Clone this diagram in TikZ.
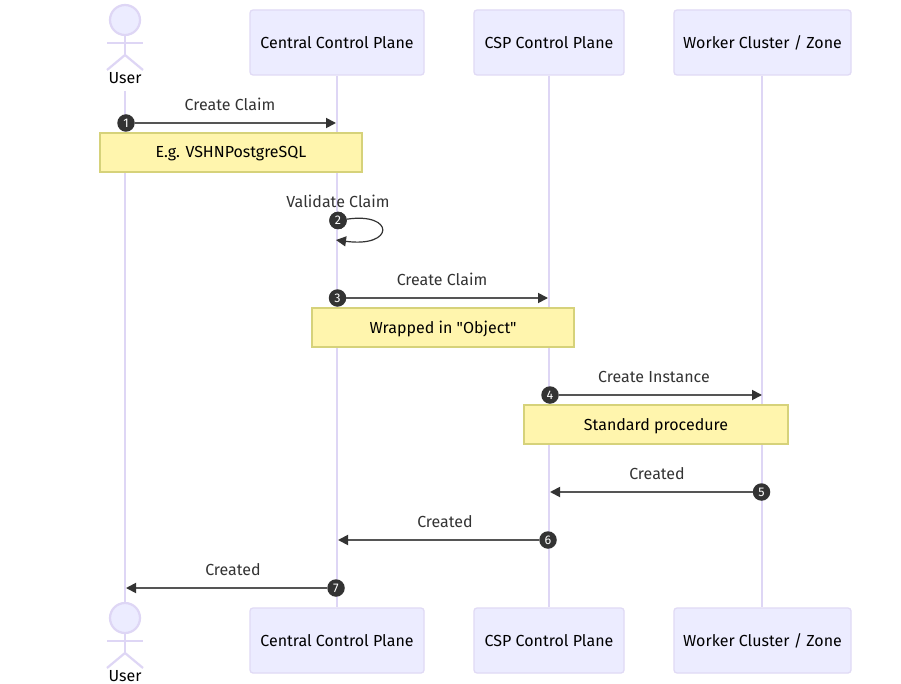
\documentclass[tikz,border=0pt]{standalone}
\usepackage{fontspec}
\setmainfont{Fira Sans}[Ligatures=TeXOff]
\usetikzlibrary{arrows.meta}
\definecolor{actorfill}{HTML}{ECECFF}
\definecolor{actorline}{HTML}{DED6F5}
\definecolor{boxline}{HTML}{E0DAF5}
\definecolor{notefill}{HTML}{FFF5AD}
\definecolor{noteline}{HTML}{D6D27A}
\definecolor{msgline}{HTML}{555555}
\definecolor{ink}{HTML}{333333}
\tikzset{
  x=1pt,y=-1pt,
  lifeline/.style={draw=actorline,line width=2.2pt},
  partbox/.style={draw=boxline,fill=actorfill,line width=1.3pt,rounded corners=3pt,minimum height=65pt,inner sep=0pt,font=\fontsize{16}{18}\selectfont,text=black,text height=12pt,text depth=0pt},
  notebox/.style={draw=noteline,fill=notefill,line width=1.2pt,minimum height=39pt,inner sep=0pt,font=\fontsize{16}{18}\selectfont,text=black,text height=11pt,text depth=0pt},
  msglabel/.style={font=\fontsize{16}{18}\selectfont,text=ink,inner sep=0pt,text height=12pt,text depth=0pt},
  actorlabel/.style={font=\fontsize{16}{18}\selectfont,text=black,inner sep=0pt,fill=white,inner xsep=1pt,text height=11pt,text depth=0pt},
  msg/.style={draw=msgline,line width=1.8pt,-{Triangle[length=10pt,width=10pt,color=ink]}},
  numdot/.style={circle,fill=ink,text=white,minimum size=17.5pt,inner sep=0pt,font=\fontsize{12.5}{13}\selectfont},
  limb/.style={draw=actorline,line width=2.2pt},
  head/.style={circle,draw=actorline,fill=actorfill,line width=2.2pt,minimum size=30pt,inner sep=0pt},
}
\begin{document}
\begin{tikzpicture}
\useasboundingbox (0,0) rectangle (901,684);
\fill[white] (0,0) rectangle (901,684);
% participant anchors
\node[partbox,minimum width=174pt] (cTop) at (337,42.5) {Central Control Plane};
\node[partbox,minimum width=150pt] (sTop) at (549,42.5) {CSP Control Plane};
\node[partbox,minimum width=177pt] (wTop) at (762.5,42.5) {Worker Cluster / Zone};
\node[partbox,minimum width=174pt] (cBot) at (337,640.5) {Central Control Plane};
\node[partbox,minimum width=150pt] (sBot) at (549,640.5) {CSP Control Plane};
\node[partbox,minimum width=177pt] (wBot) at (762.5,640.5) {Worker Cluster / Zone};
% actors
\coordinate (uTopLife) at (125,91);
\node[head] (uHeadB) at (125,618) {};
\draw[lifeline] (uTopLife) -- (uHeadB.north);
\draw[lifeline] (cTop.south) -- (cBot.north);
\draw[lifeline] (sTop.south) -- (sBot.north);
\draw[lifeline] ([xshift=-0.5pt]wTop.south) -- ([xshift=-0.5pt]wBot.north);
\node[head] (uHeadT) at (125,20) {};
\coordinate (hipT) at (125,55);
\draw[limb] (uHeadT.south) -- (hipT);
\draw[limb] (107,43) -- (143,43);
\draw[limb] (107,70) -- (hipT) -- (143,70);
\node[actorlabel] (uLabT) at (125,78.5) {User};
\coordinate (hipB) at (125,653);
\draw[limb] (uHeadB.south) -- (hipB);
\draw[limb] (107,641) -- (143,641);
\draw[limb] (107,668) -- (hipB) -- (143,668);
\node[actorlabel] (uLabB) at (125,676) {User};
% notes
\node[notebox,minimum width=262pt] (n1) at (231,152.5) {E.g. VSHNPostgreSQL};
\node[notebox,minimum width=262pt] (n2) at (443,327.5) {Wrapped in "Object"};
\node[notebox,minimum width=264pt] (n3) at (656,424.5) {Standard procedure};
% message endpoints
\coordinate (a1) at (336,123);
\coordinate (a3) at (548,298);
\coordinate (a4) at (762,395);
\coordinate (a5) at (550,492);
\coordinate (a6) at (338,540);
\coordinate (a7) at (126,588);
% numbers
\node[numdot] (d1) at (126,123) {1};
\node[numdot] (d2) at (338,220.5) {2};
\node[numdot] (d3) at (337.5,298) {3};
\node[numdot] (d4) at (550,395) {4};
\node[numdot] (d5) at (761.5,492) {5};
\node[numdot] (d6) at (548,540) {6};
\node[numdot] (d7) at (336,588) {7};
% messages
\draw[msg] (d1) -- (a1);
\draw[msg] (d3) -- (a3);
\draw[msg] (d4) -- (a4);
\draw[msg] (d5) -- (a5);
\draw[msg] (d6) -- (a6);
\draw[msg] (d7) -- (a7);
\coordinate (a2) at (336,240);
\draw[draw=ink,line width=1.2pt,-{Triangle[length=10pt,width=10pt,color=ink]}] (d2) .. controls (395,212) and (395,248) .. (a2);
\node[numdot] at (d2) {2};
% labels
\node[msglabel] (l1) at (230,104.5) {Create Claim};
\node[msglabel] (l2) at (338,201.5) {Validate Claim};
\node[msglabel] (l3) at (442,279.5) {Create Claim};
\node[msglabel] (l4) at (654,376.5) {Create Instance};
\node[msglabel] (l5) at (657,473.5) {Created};
\node[msglabel] (l6) at (445,521.5) {Created};
\node[msglabel] (l7) at (233,569.5) {Created};
\end{tikzpicture}
\end{document}
